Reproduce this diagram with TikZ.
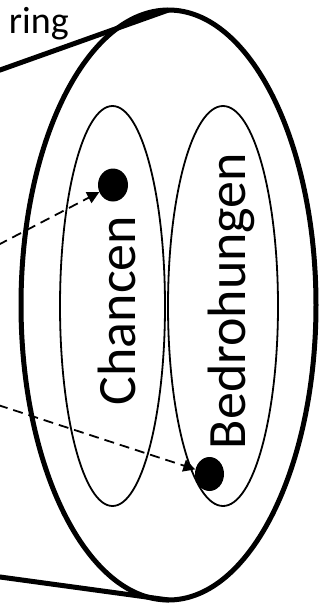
\documentclass[tikz,border=0pt]{standalone}
\usepackage{fontspec}
\setmainfont{Carlito}
\usetikzlibrary{arrows.meta,shapes.geometric}
\tikzset{
  outerell/.style={draw, line width=5pt},
  innerell/.style={draw, line width=1.8pt},
  dotnode/.style={fill=black, ellipse, inner sep=0pt},
  conearrow/.style={line width=1.8pt, dash pattern=on 10pt off 6pt, -{Triangle[length=12pt,width=12pt]}},
  coneline/.style={line width=5pt},
  lbl/.style={font=\fontsize{54}{60}\selectfont, rotate=90, anchor=base, inner sep=0pt},
}
\begin{document}
\begin{tikzpicture}[x=1pt,y=-1pt]
\useasboundingbox (0,0) rectangle (327,606);
\draw[outerell] (168.5,305) ellipse [x radius=147.5, y radius=295];
\coordinate (top) at (168.5,10);
\coordinate (bot) at (168.5,600);
\coordinate (tl) at (-5,71.8);
\coordinate (bl) at (-5,576.3);
\draw[coneline] (tl) -- (top);
\draw[coneline] (bl) -- (bot);
\draw[innerell] (112.5,306) ellipse [x radius=52.5, y radius=200];
\draw[innerell] (223,306) ellipse [x radius=55, y radius=200];
\node[dotnode, minimum width=30pt, minimum height=33pt] (d1) at (113,185) {};
\node[dotnode, minimum width=29pt, minimum height=34pt] (d2) at (209.5,474) {};
\node[lbl] (chancen) at (135,310.5) {Chancen};
\node[lbl] (bedro) at (245,301) {Bedrohungen};
\node[font=\fontsize{38}{44}\selectfont, anchor=base east, inner sep=0pt] (ring) at (69,33) {ring};
\coordinate (a1) at (-2,245);
\coordinate (a2) at (-2,405);
\draw[conearrow] (a1) -- (d1);
\draw[conearrow] (a2) -- (d2);
\end{tikzpicture}
\end{document}
